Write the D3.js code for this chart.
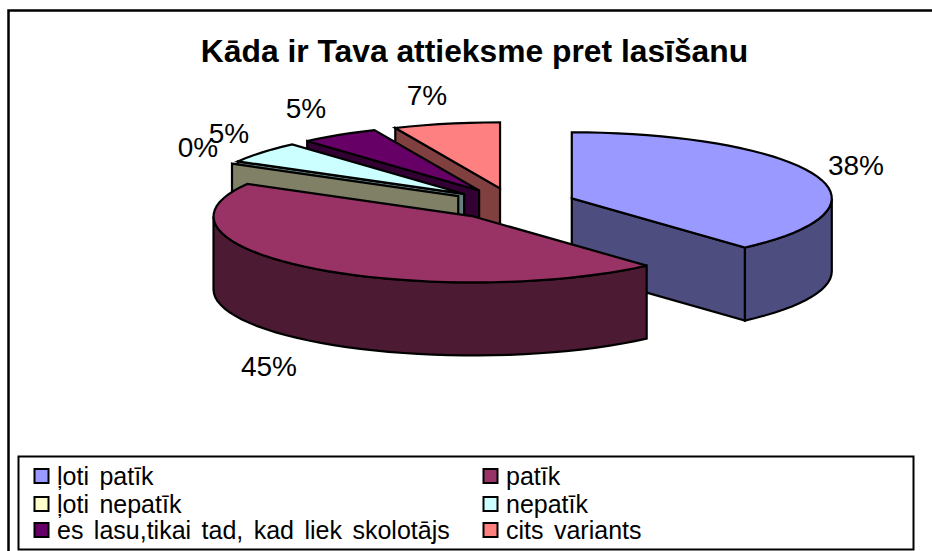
<!DOCTYPE html>
<html><head><meta charset="utf-8">
<script src="https://cdn.jsdelivr.net/npm/d3@7/dist/d3.min.js"></script>
<style>html,body{margin:0;padding:0;background:#fff}svg{display:block}text{font-family:"Liberation Sans",Arial,sans-serif;fill:#000}</style>
</head><body>
<script>
const titleText = "Kāda ir Tava attieksme pret lasīšanu";
const categories = ["ļoti patīk","patīk","ļoti nepatīk","nepatīk","es lasu,tikai tad, kad liek skolotājs","cits variants"];
const values = [38.4,44.8,0,5.3,4.9,6.6];
const percentLabels = ["38%","45%","0%","5%","5%","7%"];
const topColors = ["#9999FF","#993366","#FFFFCC","#CCFFFF","#660066","#FF8080"];
const wallColors = ["#4D4D80","#4D1A33","#808066","#668080","#330033","#804040"];
const drawOrder = [0,5,4,3,2,1];

const W=932,H=551, cx=513, cy=204, rx=260, ry=66, depth=73, explode=0.242;
const labelPos=[[856,165],[269,366],[198,147],[229,133],[306,108],[427,95]];

const svg=d3.select("body").append("svg").attr("width",W).attr("height",H);
svg.append("path").attr("d",`M8.5,${H} V10.5 H${W}`).attr("fill","none").attr("stroke","#000").attr("stroke-width",2.5);
svg.append("text").attr("x",474.5).attr("y",62).attr("text-anchor","middle").attr("font-weight","bold").attr("font-size",31.8).text(titleText);

const arcs=d3.pie().sort(null).value(d=>d)(values);
const line=d3.line().x(d=>d[0]).y(d=>d[1]);
const px=(o,a)=>[o[0]+rx*Math.sin(a),o[1]-ry*Math.cos(a)];
const rim=(o,a0,a1)=>{const n=Math.max(1,Math.ceil(Math.abs(a1-a0)/0.06));return d3.range(n+1).map(i=>px(o,a0+(a1-a0)*i/n));};
const down=p=>[p[0],p[1]+depth];
const g=svg.append("g").attr("stroke","#000").attr("stroke-width",2.2).attr("stroke-linejoin","miter");

drawOrder.forEach(i=>{
  const s=arcs[i], mid=(s.startAngle+s.endAngle)/2;
  const o=[cx+explode*rx*Math.sin(mid),cy-explode*ry*Math.cos(mid)];
  const a0=s.startAngle,a1=s.endAngle;
  // flat side walls that face the viewer
  const eps=1e-6;
  if(Math.sin(a0)<-eps){const e=px(o,a0);g.append("path").attr("fill",wallColors[i]).attr("d",line([o,e,down(e),down(o)])+"Z");}
  if(Math.sin(a1)>eps){const e=px(o,a1);g.append("path").attr("fill",wallColors[i]).attr("d",line([o,e,down(e),down(o)])+"Z");}
  // curved outer wall: visible from 90deg to 270deg only
  const v0=Math.max(a0,Math.PI/2), v1=Math.min(a1,Math.PI*1.5);
  if(v1>v0){
    const top=rim(o,v0,v1);
    g.append("path").attr("fill",wallColors[i]).attr("d",line(top.concat(top.slice().reverse().map(down)))+"Z");
  }
  // top face
  if(a1>a0) g.append("path").attr("fill",topColors[i]).attr("d",line([o].concat(rim(o,a0,a1)))+"Z");
});

svg.selectAll("text.pct").data(percentLabels).join("text").attr("class","pct")
  .attr("x",(d,i)=>labelPos[i][0]).attr("y",(d,i)=>labelPos[i][1]+10)
  .attr("text-anchor","middle").attr("font-size",28).text(d=>d);

// legend
svg.append("rect").attr("x",18.5).attr("y",456.5).attr("width",895).attr("height",93).attr("fill","#fff").attr("stroke","#000").attr("stroke-width",2);
const legX=[34,483], legY=[476,504,530];
const leg=svg.selectAll("g.leg").data(categories).join("g").attr("class","leg")
  .attr("transform",(d,i)=>`translate(${legX[i%2]},${legY[Math.floor(i/2)]})`);
leg.append("rect").attr("x",0.5).attr("y",-7).attr("width",14).attr("height",14).attr("fill",(d,i)=>topColors[i]).attr("stroke","#000").attr("stroke-width",2);
leg.append("text").attr("x",23).attr("y",8.5).attr("font-size",25).attr("word-spacing",3.5).text(d=>d);
</script>
</body></html>
